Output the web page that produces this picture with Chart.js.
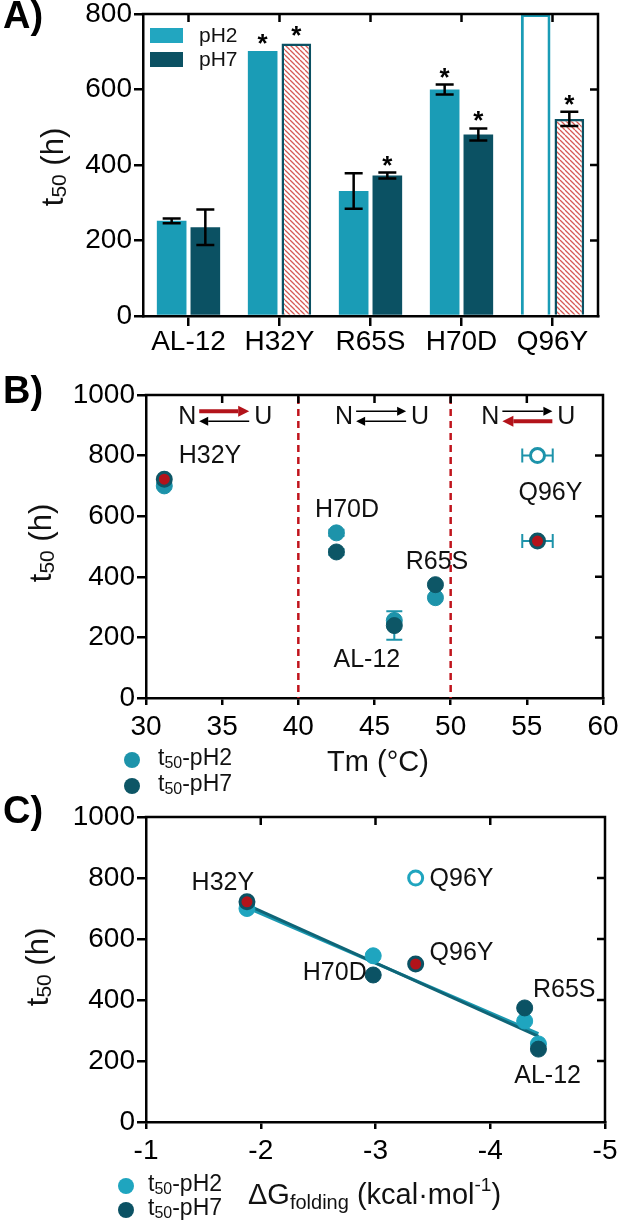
<!DOCTYPE html>
<html>
<head>
<meta charset="utf-8">
<script src="https://cdn.jsdelivr.net/npm/chart.js@4.4.1/dist/chart.umd.min.js"></script>
<style>
  html, body { margin: 0; padding: 0; background: #fff; }
  #wrap { position: relative; width: 620px; height: 1225px; overflow: hidden; }
  canvas { position: absolute; left: 0; }
</style>
</head>
<body>
<div id="wrap">
  <canvas id="chartA" width="620" height="355" style="top:0px"></canvas>
  <canvas id="chartB" width="620" height="440" style="top:355px"></canvas>
  <canvas id="chartC" width="620" height="430" style="top:795px"></canvas>
</div>
<script>
// ---- data ----
const mutants = ['AL-12', 'H32Y', 'R65S', 'H70D', 'Q96Y'];

// panel A (bars)
const barPH2 = [252, 702, 331, 600, 800];
const barPH2Err = [6, 0, 47, 13, 0];
const barPH7 = [235, 722, 372, 481, 522];
const barPH7Err = [47, 0, 8, 16, 19];
const starPH2 = [false, true, false, true, false];
const starPH7 = [false, true, true, true, true];
const openPH2 = [false, false, false, false, true];
const hatchedPH7 = [false, true, false, false, true];

// panels B and C (points)
const tm = [46.3, 31.2, 49.0, 42.5, 55.7];
const tmErr = [0, 0, 0, 0, 1.0];
const dG = [-4.42, -1.88, -4.30, -2.98, -3.35];
const t50PH2 = [256, 700, 331, 545, 800];
const t50PH7 = [239, 722, 374, 482, 518];
const t50PH2Err = [0, 0, 0, 10, 0];
const t50PH7Err = [47, 0, 0, 10, 0];

// fitted lines in C
const fitDG = [-1.88, -4.42];
const fitPH2 = [703, 290];
const fitPH7 = [712, 281];

// ---- look ----
const FONT = "'Liberation Sans', Arial, sans-serif";
const TICK = 28;
const colA2 = '#1a9cb6', colA7 = '#0b5163';
const colB2 = '#1d93aa', colB7 = '#0d5666';
const colC2 = '#1fa5bf', colC7 = '#0b5264';
const red = '#b3131a';
const none = [false, false, false, false, false];

function hatch() {
  const c = document.createElement('canvas');
  c.width = 5; c.height = 5;
  const g = c.getContext('2d');
  g.fillStyle = '#fff';
  g.fillRect(0, 0, 5, 5);
  g.strokeStyle = '#d65a55';
  g.lineWidth = 1.3;
  g.beginPath();
  for (const k of [-5, 0, 5]) { g.moveTo(k, 0); g.lineTo(k + 5, 5); }
  g.stroke();
  return g.createPattern(c, 'repeat');
}

// pin the plot area where the reference has it
function fixArea(area, H) {
  return {
    x: s => { s.height = H - area.bottom; s.paddingLeft = 0; s.paddingRight = 0; },
    y: s => { s.width = area.left; s.paddingTop = 0; s.paddingBottom = 0; },
    padding: { left: 0, top: area.top, right: 620 - area.right, bottom: 0 }
  };
}

function axis(extra, tickExtra, fit, tickLen, pad) {
  return Object.assign({
    afterFit: fit,
    grid: { drawOnChartArea: false, tickLength: tickLen, lineWidth: 2.5, color: '#000' },
    border: { width: 2.5, color: '#000' },
    ticks: Object.assign({
      color: '#000', font: { family: FONT, size: TICK, lineHeight: 1 },
      padding: pad, maxRotation: 0, autoSkip: false
    }, tickExtra)
  }, extra);
}

const plainNum = { callback: v => String(v) };

function rich(ctx, parts, x, y, align) {
  let w = 0;
  parts.forEach(p => { ctx.font = p[1] + 'px ' + FONT; w += ctx.measureText(p[0]).width; });
  let cx = align === 'center' ? x - w / 2 : x;
  ctx.textAlign = 'left';
  ctx.textBaseline = 'middle';
  parts.forEach(p => {
    ctx.font = p[1] + 'px ' + FONT;
    ctx.fillText(p[0], cx, y + (p[2] || 0));
    cx += ctx.measureText(p[0]).width;
  });
}

function richRot(ctx, parts, x, y) {
  ctx.save();
  ctx.translate(x, y);
  ctx.rotate(-Math.PI / 2);
  ctx.fillStyle = '#111';
  rich(ctx, parts, 0, 0, 'center');
  ctx.restore();
}

const t50Title = [['t', 31], ['50', 21, 6], [' (h)', 31]];

// top and right sides of the box, with ticks pointing in
const framePlugin = {
  id: 'frame',
  afterDraw(chart) {
    const { ctx, chartArea: a, scales } = chart;
    ctx.save();
    ctx.strokeStyle = '#000';
    ctx.lineWidth = 2.5;
    ctx.beginPath();
    ctx.moveTo(a.left - 1.25, a.top);
    ctx.lineTo(a.right, a.top);
    ctx.lineTo(a.right, a.bottom + 1.25);
    ctx.stroke();
    ctx.beginPath();
    scales.x.ticks.forEach((t, i) => {
      const px = scales.x.getPixelForTick(i);
      if (px > a.left + 3 && px < a.right - 3) { ctx.moveTo(px, a.top); ctx.lineTo(px, a.top + 8); }
    });
    scales.y.ticks.forEach((t, i) => {
      const py = scales.y.getPixelForTick(i);
      if (py > a.top + 3 && py < a.bottom - 3) { ctx.moveTo(a.right, py); ctx.lineTo(a.right - 8, py); }
    });
    ctx.stroke();
    ctx.restore();
  }
};

function panelLabel(ctx, txt, y) {
  ctx.fillStyle = '#000';
  ctx.font = 'bold 38px ' + FONT;
  ctx.textAlign = 'left';
  ctx.textBaseline = 'middle';
  ctx.fillText(txt, 3, y);
}

// ---- A ----
const barExtras = {
  id: 'barExtras',
  afterDatasetsDraw(chart) {
    const { ctx } = chart;
    const y = chart.scales.y;
    const sets = [[barPH2, barPH2Err, starPH2], [barPH7, barPH7Err, starPH7]];
    ctx.save();
    ctx.strokeStyle = '#000';
    ctx.fillStyle = '#000';
    ctx.lineWidth = 2.5;
    sets.forEach(([vals, errs, stars], di) => {
      chart.getDatasetMeta(di).data.forEach((bar, i) => {
        const x = bar.x;
        let top = vals[i];
        if (errs[i]) {
          const y1 = y.getPixelForValue(vals[i] - errs[i]);
          const y2 = y.getPixelForValue(vals[i] + errs[i]);
          ctx.beginPath();
          ctx.moveTo(x, y1); ctx.lineTo(x, y2);
          ctx.moveTo(x - 9, y1); ctx.lineTo(x + 9, y1);
          ctx.moveTo(x - 9, y2); ctx.lineTo(x + 9, y2);
          ctx.stroke();
          top = vals[i] + errs[i];
        }
        if (stars[i]) {
          ctx.font = 'bold 26px ' + FONT;
          ctx.textAlign = 'center';
          ctx.textBaseline = 'alphabetic';
          ctx.fillText('*', x, y.getPixelForValue(top) + 1);
        }
      });
    });
    ctx.restore();
  }
};

const decorA = {
  id: 'decorA',
  afterDraw(chart) {
    const { ctx } = chart;
    ctx.save();
    panelLabel(ctx, 'A)', 18);
    ctx.fillStyle = '#22a6c0'; ctx.fillRect(150, 28, 33, 15);
    ctx.fillStyle = colA7; ctx.fillRect(150, 52, 33, 15);
    ctx.fillStyle = '#111';
    rich(ctx, [['pH2', 21]], 199, 36, 'left');
    rich(ctx, [['pH7', 21]], 199, 60, 'left');
    richRot(ctx, t50Title, 54, 167);
    ctx.restore();
  }
};

const fa = fixArea({ left: 143, top: 14, right: 598, bottom: 316 }, 355);
new Chart(document.getElementById('chartA'), {
  type: 'bar',
  data: {
    labels: mutants,
    datasets: [
      {
        label: 'pH2', data: barPH2,
        backgroundColor: openPH2.map(o => o ? '#fff' : colA2),
        borderColor: colA2,
        borderWidth: openPH2.map(o => o ? 3 : 0),
        barPercentage: 0.88, categoryPercentage: 0.74
      },
      {
        label: 'pH7', data: barPH7,
        backgroundColor: hatchedPH7.map(h => h ? hatch() : colA7),
        borderColor: colA7,
        borderWidth: hatchedPH7.map(h => h ? 2.5 : 0),
        barPercentage: 0.88, categoryPercentage: 0.74
      }
    ]
  },
  options: {
    responsive: false, animation: false,
    layout: { padding: fa.padding },
    plugins: { legend: { display: false }, tooltip: { enabled: false } },
    scales: {
      x: axis({ grid: { offset: false, drawOnChartArea: false, tickLength: 10, lineWidth: 2.5, color: '#000' } }, {}, fa.x, 10, 2),
      y: axis({ min: 0, max: 800 }, Object.assign({ stepSize: 200 }, plainNum), fa.y, 9, 2)
    }
  },
  plugins: [barExtras, framePlugin, decorA]
});

// ---- helpers for B and C ----
function pointSet(label, xs, ys, col, redFlags, openFlags, order) {
  return {
    label, order,
    data: xs.map((v, i) => ({ x: v, y: ys[i] })),
    backgroundColor: ys.map((v, i) => openFlags[i] ? '#fff' : (redFlags[i] ? red : col)),
    borderColor: col,
    borderWidth: ys.map((v, i) => (openFlags[i] || redFlags[i]) ? 3 : 1),
    pointRadius: ys.map((v, i) => (openFlags[i] || redFlags[i]) ? 7 : 8),
    pointHoverRadius: 0
  };
}

function errPlugin(xs, sets) {
  return {
    id: 'errs',
    beforeDatasetsDraw(chart) {
      const { ctx, scales } = chart;
      ctx.save();
      ctx.lineWidth = 2;
      sets.forEach(s => {
        ctx.strokeStyle = s.col;
        s.ys.forEach((v, i) => {
          const px = scales.x.getPixelForValue(xs[i]);
          const py = scales.y.getPixelForValue(v);
          ctx.beginPath();
          if (s.yErr[i]) {
            const y1 = scales.y.getPixelForValue(v - s.yErr[i]);
            const y2 = scales.y.getPixelForValue(v + s.yErr[i]);
            ctx.moveTo(px, y1); ctx.lineTo(px, y2);
            ctx.moveTo(px - 8, y1); ctx.lineTo(px + 8, y1);
            ctx.moveTo(px - 8, y2); ctx.lineTo(px + 8, y2);
          }
          if (s.xErr && s.xErr[i]) {
            const x1 = scales.x.getPixelForValue(xs[i] - s.xErr[i]);
            const x2 = scales.x.getPixelForValue(xs[i] + s.xErr[i]);
            ctx.moveTo(x1, py); ctx.lineTo(x2, py);
            ctx.moveTo(x1, py - 7); ctx.lineTo(x1, py + 7);
            ctx.moveTo(x2, py - 7); ctx.lineTo(x2, py + 7);
          }
          ctx.stroke();
        });
      });
      ctx.restore();
    }
  };
}

function labelsPlugin(items) {
  return {
    id: 'names',
    afterDatasetsDraw(chart) {
      const { ctx, scales } = chart;
      ctx.save();
      ctx.fillStyle = '#111';
      ctx.font = '25px ' + FONT;
      ctx.textAlign = 'center';
      ctx.textBaseline = 'middle';
      items.forEach(it => ctx.fillText(it[0], scales.x.getPixelForValue(it[1]), scales.y.getPixelForValue(it[2])));
      ctx.restore();
    }
  };
}

function pointLegend(ctx, x, ys, cols, tx) {
  ['pH2', 'pH7'].forEach((p, i) => {
    ctx.fillStyle = cols[i];
    ctx.beginPath();
    ctx.arc(x, ys[i], 8, 0, Math.PI * 2);
    ctx.fill();
    ctx.fillStyle = '#111';
    rich(ctx, [['t', 23], ['50', 16, 5], ['-' + p, 23]], tx, ys[i] - 1, 'left');
  });
}

// ---- B ----
function arrow(ctx, x1, x2, y, col, lw, head) {
  const dir = Math.sign(x2 - x1);
  ctx.strokeStyle = col; ctx.fillStyle = col; ctx.lineWidth = lw;
  ctx.beginPath();
  ctx.moveTo(x1, y); ctx.lineTo(x2 - dir * head, y);
  ctx.stroke();
  ctx.beginPath();
  ctx.moveTo(x2, y);
  ctx.lineTo(x2 - dir * head, y - head * 0.5);
  ctx.lineTo(x2 - dir * head, y + head * 0.5);
  ctx.closePath();
  ctx.fill();
}

const equilibria = [
  { tm: 35.2, fwdRed: true, backRed: false },
  { tm: 45.5, fwdRed: false, backRed: false },
  { tm: 55.1, fwdRed: false, backRed: true }
];
const regionEdges = [40, 50];

const decorB = {
  id: 'decorB',
  beforeDatasetsDraw(chart) {
    const { ctx, chartArea: a, scales } = chart;
    ctx.save();
    ctx.strokeStyle = '#c0141c';
    ctx.lineWidth = 2.5;
    ctx.setLineDash([7, 5]);
    regionEdges.forEach(v => {
      const px = scales.x.getPixelForValue(v);
      ctx.beginPath(); ctx.moveTo(px, a.top + 2); ctx.lineTo(px, a.bottom); ctx.stroke();
    });
    ctx.restore();
  },
  afterDraw(chart) {
    const { ctx, scales } = chart;
    ctx.save();
    panelLabel(ctx, 'B)', 38);
    const cy = scales.y.getPixelForValue(930);
    equilibria.forEach(e => {
      const cx = scales.x.getPixelForValue(e.tm);
      ctx.fillStyle = '#111';
      ctx.font = '25px ' + FONT;
      ctx.textAlign = 'center';
      ctx.textBaseline = 'middle';
      ctx.fillText('N', cx - 38, cy + 1);
      ctx.fillText('U', cx + 38, cy + 1);
      if (e.fwdRed) arrow(ctx, cx - 26, cx + 24, cy - 5, red, 4, 11);
      else arrow(ctx, cx - 26, cx + 24, cy - 5, '#000', 1.5, 9);
      if (e.backRed) arrow(ctx, cx + 24, cx - 26, cy + 5, red, 4, 11);
      else arrow(ctx, cx + 24, cx - 26, cy + 5, '#000', 1.5, 9);
    });
    richRot(ctx, t50Title, 42, 188);
    ctx.fillStyle = '#111';
    rich(ctx, [['Tm (°C)', 29]], 378, 408, 'center');
    pointLegend(ctx, 132, [405, 431], [colB2, colB7], 158);
    ctx.restore();
  }
};

const fb = fixArea({ left: 146, top: 40, right: 603, bottom: 343 }, 440);
new Chart(document.getElementById('chartB'), {
  type: 'scatter',
  data: {
    datasets: [
      pointSet('t50-pH2', tm, t50PH2, colB2, none, openPH2, 1),
      pointSet('t50-pH7', tm, t50PH7, colB7, hatchedPH7, none, 0)
    ]
  },
  options: {
    responsive: false, animation: false,
    layout: { padding: fb.padding },
    plugins: { legend: { display: false }, tooltip: { enabled: false } },
    scales: {
      x: axis({ type: 'linear', min: 30, max: 60 }, Object.assign({ stepSize: 5 }, plainNum), fb.x, 7, 8),
      y: axis({ min: 0, max: 1000 }, Object.assign({ stepSize: 200 }, plainNum), fb.y, 9, 2)
    }
  },
  plugins: [
    errPlugin(tm, [
      { ys: t50PH2, yErr: t50PH2Err, xErr: tmErr, col: colB2 },
      { ys: t50PH7, yErr: t50PH7Err, xErr: tmErr, col: colB2 }
    ]),
    decorB, framePlugin,
    labelsPlugin([
      ['H32Y', 34.2, 797], ['H70D', 43.2, 621], ['R65S', 49.1, 450],
      ['AL-12', 44.5, 126], ['Q96Y', 56.55, 676]
    ])
  ]
});

// ---- C ----
const decorC = {
  id: 'decorC',
  afterDraw(chart) {
    const { ctx } = chart;
    ctx.save();
    panelLabel(ctx, 'C)', 18);
    richRot(ctx, t50Title, 39, 172);
    ctx.fillStyle = '#111';
    rich(ctx, [['\u0394G', 29], ['folding', 20, 7], [' (kcal\u00b7mol', 29], ['-1', 19, -10], [')', 29]], 248, 401, 'left');
    pointLegend(ctx, 126, [391, 415], [colC2, colC7], 148);
    ctx.restore();
  }
};

const fc = fixArea({ left: 146, top: 22, right: 605, bottom: 327 }, 430);
new Chart(document.getElementById('chartC'), {
  type: 'scatter',
  data: {
    datasets: [
      {
        type: 'line', label: 'fit pH2', order: 3,
        data: fitDG.map((v, i) => ({ x: v, y: fitPH2[i] })),
        borderColor: '#1a98b0', borderWidth: 3, pointRadius: 0, fill: false
      },
      {
        type: 'line', label: 'fit pH7', order: 2,
        data: fitDG.map((v, i) => ({ x: v, y: fitPH7[i] })),
        borderColor: '#0f6577', borderWidth: 3, pointRadius: 0, fill: false
      },
      pointSet('t50-pH2', dG, t50PH2, colC2, none, openPH2, 1),
      pointSet('t50-pH7', dG, t50PH7, colC7, hatchedPH7, none, 0)
    ]
  },
  options: {
    responsive: false, animation: false,
    layout: { padding: fc.padding },
    plugins: { legend: { display: false }, tooltip: { enabled: false } },
    scales: {
      x: axis({ type: 'linear', min: -5, max: -1, reverse: true }, Object.assign({ stepSize: 1 }, plainNum), fc.x, 7, 8),
      y: axis({ min: 0, max: 1000 }, Object.assign({ stepSize: 200 }, plainNum), fc.y, 9, 2)
    }
  },
  plugins: [
    framePlugin, decorC,
    labelsPlugin([
      ['H32Y', -1.67, 782], ['Q96Y', -3.75, 796], ['Q96Y', -3.75, 554],
      ['H70D', -2.645, 489], ['R65S', -4.645, 432], ['AL-12', -4.5, 150]
    ])
  ]
});
</script>
</body>
</html>
